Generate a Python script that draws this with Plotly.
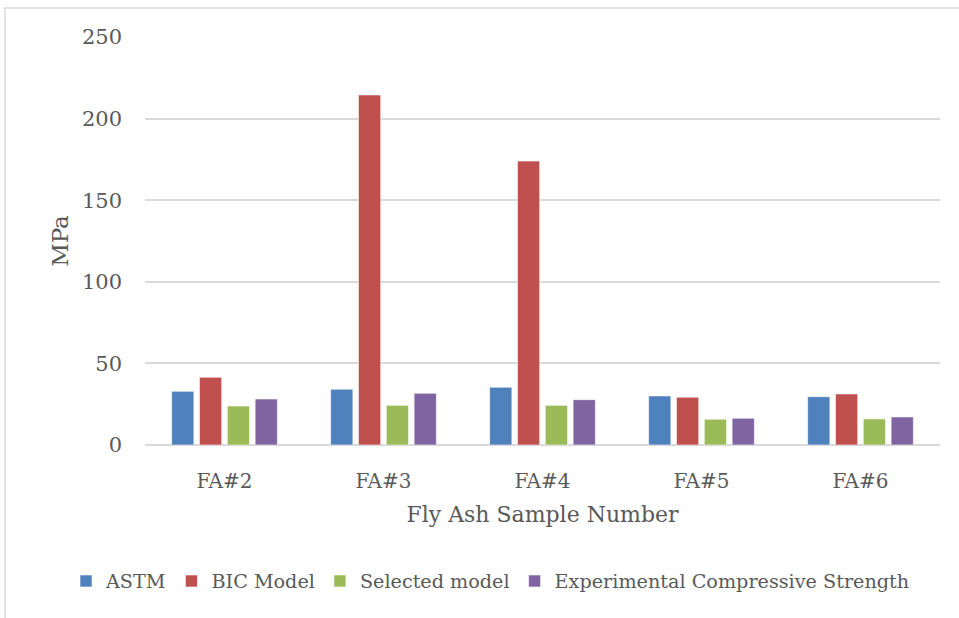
import plotly.graph_objects as go

categories = ["FA#2", "FA#3", "FA#4", "FA#5", "FA#6"]
astm = [32.9, 34.2, 35.4, 30.1, 29.6]
bic_model = [41.5, 214.5, 174.0, 29.3, 31.3]
selected_model = [23.9, 24.3, 24.3, 15.8, 16.0]
experimental = [28.2, 31.7, 27.8, 16.4, 17.2]

series = [
    ("ASTM", astm, "#4f81bd"),
    ("BIC Model", bic_model, "#c0504d"),
    ("Selected model", selected_model, "#9bbb59"),
    ("Experimental Compressive Strength", experimental, "#8064a2"),
]

FONT = "DejaVu Serif"
TEXT_GRAY = "#595959"

fig = go.Figure()
for name, vals, color in series:
    fig.add_trace(go.Bar(
        name=name, x=categories, y=vals,
        marker=dict(color=color, line=dict(color="rgba(255,255,255,0.6)", width=1)),
    ))

W, H = 959, 618
ml, mr, mt, mb = 145, 19, 37, 173
pw, ph = W - ml - mr, H - mt - mb

fig.update_layout(
    width=W, height=H,
    margin=dict(l=ml, r=mr, t=mt, b=mb, pad=0),
    paper_bgcolor="white", plot_bgcolor="white",
    barmode="group", bargap=0.3, bargroupgap=0.2,
    font=dict(family=FONT, color=TEXT_GRAY, size=20),
    showlegend=True,
    legend=dict(
        orientation="h", x=(66 - ml) / pw, xanchor="left",
        y=-(581 - (mt + ph)) / ph, yanchor="middle",
        font=dict(family=FONT, size=19.2, color=TEXT_GRAY),
        itemwidth=30, tracegroupgap=0, bgcolor="rgba(0,0,0,0)",
    ),
    xaxis=dict(
        showgrid=False, showline=False, ticks="", ticklabelstandoff=22,
        tickfont=dict(family=FONT, size=20, color=TEXT_GRAY),
        title=dict(text="Fly Ash Sample Number", standoff=14,
                   font=dict(family=FONT, size=22, color=TEXT_GRAY)),
    ),
    yaxis=dict(
        range=[0, 250], dtick=50, showgrid=True, gridcolor="#d9d9d9", gridwidth=1.5,
        zeroline=True, zerolinecolor="#d9d9d9", zerolinewidth=1.5,
        showline=False, ticks="", ticklabelstandoff=22,
        tickfont=dict(family=FONT, size=21, color=TEXT_GRAY),
        title=dict(text="MPa", standoff=6,
                   font=dict(family=FONT, size=23, color=TEXT_GRAY)),
    ),
    shapes=[dict(
        type="rect", xref="paper", yref="paper",
        x0=(5 - ml) / pw, x1=(W + 5 - ml) / pw,
        y0=-(H + 5 - mt - ph) / ph, y1=(mt + ph - 8) / ph,
        line=dict(color="#d9d9d9", width=1.5), fillcolor="rgba(0,0,0,0)",
        layer="below",
    )],
)

fig.write_html("out.html")
